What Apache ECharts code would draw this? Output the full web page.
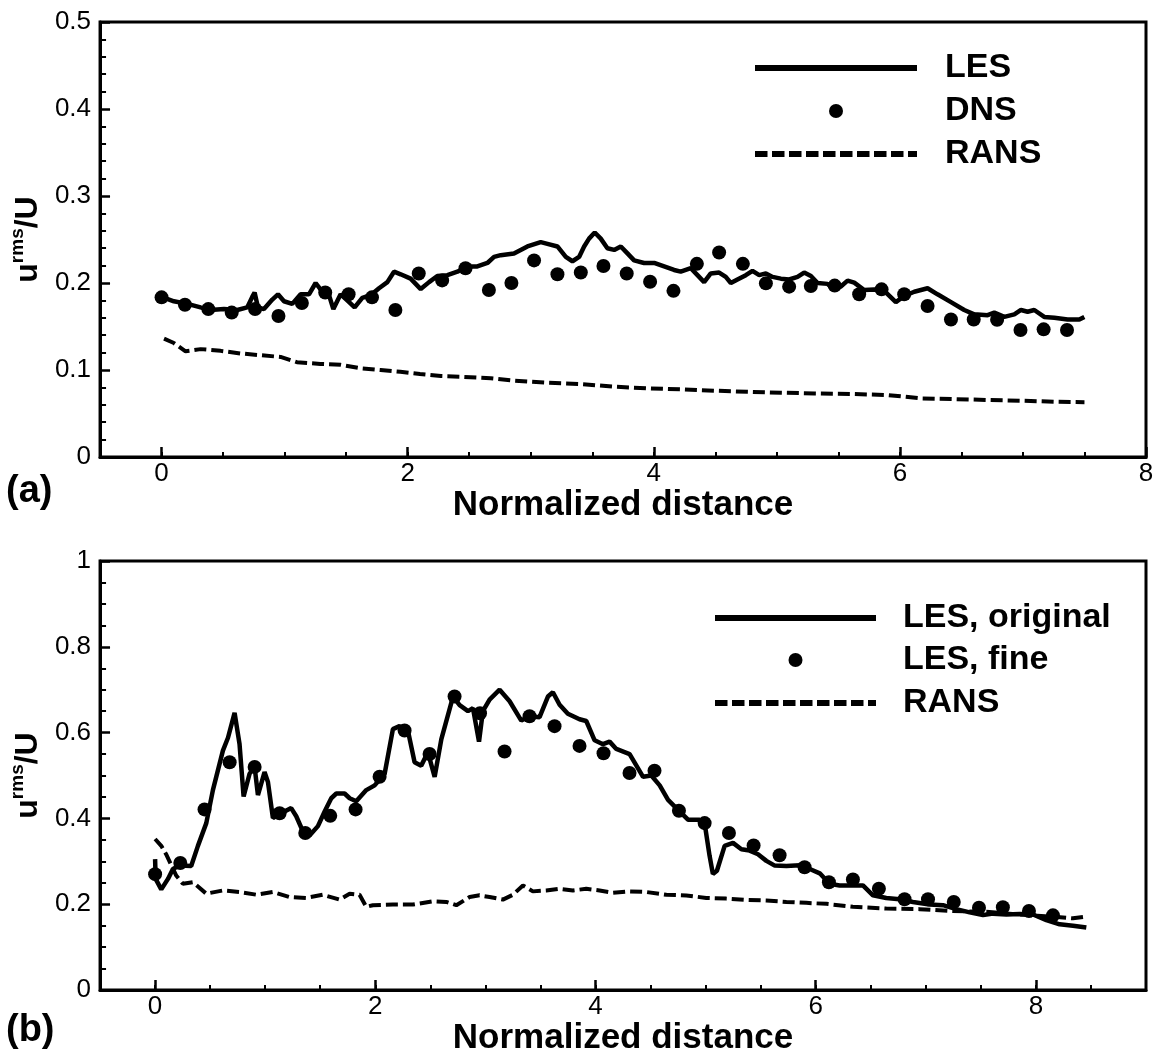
<!DOCTYPE html>
<html>
<head>
<meta charset="utf-8">
<script src="https://cdn.jsdelivr.net/npm/echarts@6/dist/echarts.min.js"></script>
<style>html,body{margin:0;padding:0;background:#fff}#c{width:1158px;height:1057px}</style>
</head>
<body>
<div id="c"></div>
<script>
// ---------- DATA ----------
// Panel (a)
const lesTop = [[0,0.184],[0.1,0.179],[0.21,0.176],[0.317,0.172],[0.398,0.169],[0.507,0.170],[0.615,0.169],[0.696,0.172],[0.737,0.184],[0.756,0.189],[0.783,0.172],[0.832,0.170],[0.9,0.181],[0.946,0.187],[0.995,0.179],[1.062,0.176],[1.13,0.187],[1.198,0.187],[1.252,0.200],[1.306,0.190],[1.352,0.190],[1.396,0.170],[1.455,0.187],[1.509,0.180],[1.569,0.172],[1.631,0.183],[1.699,0.186],[1.767,0.194],[1.835,0.201],[1.889,0.213],[1.943,0.210],[2.024,0.205],[2.106,0.193],[2.174,0.201],[2.241,0.208],[2.322,0.209],[2.404,0.213],[2.485,0.219],[2.566,0.219],[2.648,0.223],[2.702,0.230],[2.756,0.232],[2.864,0.234],[2.973,0.242],[3.081,0.247],[3.136,0.245],[3.217,0.242],[3.285,0.230],[3.339,0.225],[3.393,0.230],[3.434,0.242],[3.474,0.251],[3.52,0.258],[3.569,0.251],[3.623,0.240],[3.678,0.238],[3.732,0.242],[3.786,0.234],[3.84,0.226],[3.921,0.223],[4.003,0.223],[4.084,0.219],[4.165,0.215],[4.219,0.213],[4.301,0.217],[4.355,0.209],[4.409,0.201],[4.463,0.211],[4.531,0.212],[4.585,0.207],[4.626,0.200],[4.68,0.204],[4.748,0.209],[4.802,0.214],[4.857,0.209],[4.911,0.211],[4.965,0.207],[5.033,0.205],[5.1,0.204],[5.168,0.207],[5.222,0.212],[5.277,0.208],[5.331,0.200],[5.412,0.199],[5.467,0.192],[5.52,0.196],[5.575,0.2027],[5.629,0.2004],[5.71,0.192],[5.791,0.1926],[5.873,0.191],[5.967,0.178],[6.035,0.185],[6.117,0.190],[6.225,0.194],[6.306,0.187],[6.415,0.178],[6.523,0.169],[6.604,0.164],[6.713,0.163],[6.767,0.166],[6.848,0.161],[6.93,0.164],[6.984,0.169],[7.038,0.167],[7.092,0.169],[7.173,0.161],[7.255,0.160],[7.363,0.158],[7.458,0.158],[7.499,0.161]];
const dnsTop = [[0,0.1835],[0.19,0.175],[0.38,0.170],[0.57,0.166],[0.76,0.170],[0.95,0.162],[1.14,0.177],[1.33,0.189],[1.52,0.187],[1.71,0.1835],[1.9,0.169],[2.09,0.211],[2.28,0.203],[2.47,0.217],[2.66,0.192],[2.843,0.200],[3.027,0.226],[3.217,0.210],[3.407,0.212],[3.591,0.2195],[3.78,0.211],[3.97,0.2015],[4.16,0.191],[4.35,0.222],[4.531,0.235],[4.724,0.222],[4.911,0.1996],[5.1,0.1958],[5.276,0.1966],[5.47,0.197],[5.669,0.187],[5.851,0.1927],[6.035,0.187],[6.225,0.1736],[6.415,0.158],[6.6,0.158],[6.79,0.1578],[6.98,0.146],[7.168,0.1467],[7.358,0.146]];
const ransTop = [[0.02,0.136],[0.1,0.131],[0.195,0.1215],[0.317,0.124],[0.48,0.122],[0.642,0.119],[0.805,0.117],[0.967,0.115],[1.1,0.109],[1.29,0.107],[1.455,0.106],[1.618,0.102],[1.78,0.100],[1.94,0.098],[2.1,0.0954],[2.27,0.0931],[2.43,0.0923],[2.675,0.0905],[2.864,0.0877],[3.136,0.0854],[3.407,0.0839],[3.678,0.0808],[3.948,0.0789],[4.219,0.0778],[4.49,0.0762],[4.76,0.075],[5.033,0.0739],[5.304,0.0731],[5.629,0.0724],[5.9,0.0712],[6.171,0.0674],[6.442,0.0666],[6.713,0.0655],[6.984,0.0647],[7.255,0.0635],[7.5,0.0630]];
// Panel (b)
const lesOrig = [[0,0.305],[0.005,0.259],[0.056,0.2345],[0.117,0.259],[0.162,0.282],[0.222,0.29],[0.328,0.289],[0.389,0.336],[0.465,0.389],[0.525,0.466],[0.616,0.558],[0.662,0.588],[0.722,0.646],[0.767,0.573],[0.804,0.451],[0.858,0.504],[0.904,0.520],[0.934,0.4545],[0.994,0.508],[1.025,0.485],[1.07,0.401],[1.146,0.412],[1.236,0.424],[1.282,0.405],[1.342,0.370],[1.403,0.360],[1.479,0.382],[1.54,0.416],[1.6,0.447],[1.646,0.458],[1.721,0.458],[1.767,0.447],[1.827,0.440],[1.918,0.466],[1.994,0.477],[2.085,0.504],[2.16,0.608],[2.22,0.615],[2.296,0.605],[2.357,0.531],[2.417,0.523],[2.478,0.554],[2.539,0.497],[2.6,0.585],[2.706,0.684],[2.766,0.664],[2.842,0.650],[2.887,0.657],[2.942,0.579],[2.977,0.650],[3.038,0.677],[3.129,0.700],[3.22,0.673],[3.326,0.628],[3.401,0.638],[3.492,0.636],[3.568,0.684],[3.613,0.694],[3.674,0.665],[3.749,0.644],[3.855,0.631],[3.916,0.627],[3.992,0.582],[4.068,0.573],[4.128,0.579],[4.189,0.562],[4.31,0.550],[4.432,0.497],[4.507,0.500],[4.583,0.477],[4.659,0.443],[4.75,0.420],[4.84,0.397],[4.946,0.397],[5.0,0.374],[5.036,0.313],[5.066,0.2705],[5.103,0.278],[5.173,0.336],[5.249,0.343],[5.325,0.328],[5.4,0.325],[5.476,0.3165],[5.552,0.301],[5.628,0.290],[5.734,0.289],[5.855,0.291],[5.946,0.282],[6.037,0.272],[6.126,0.2475],[6.217,0.2437],[6.338,0.2437],[6.429,0.2437],[6.52,0.2207],[6.641,0.2145],[6.762,0.2115],[6.883,0.2053],[7.034,0.1993],[7.156,0.1977],[7.277,0.1885],[7.398,0.181],[7.52,0.1747],[7.611,0.178],[7.732,0.176],[7.853,0.177],[7.974,0.176],[8.095,0.163],[8.216,0.153],[8.337,0.150],[8.458,0.1456]];
const lesFine = [[0,0.27],[0.229,0.296],[0.449,0.421],[0.677,0.531],[0.904,0.520],[1.131,0.412],[1.364,0.366],[1.591,0.406],[1.821,0.421],[2.039,0.497],[2.266,0.605],[2.493,0.550],[2.72,0.684],[2.951,0.645],[3.174,0.556],[3.401,0.638],[3.628,0.615],[3.855,0.569],[4.073,0.552],[4.309,0.506],[4.536,0.511],[4.758,0.418],[4.991,0.389],[5.212,0.366],[5.436,0.337],[5.672,0.314],[5.899,0.286],[6.12,0.251],[6.338,0.2575],[6.574,0.236],[6.807,0.2115],[7.02,0.2115],[7.254,0.205],[7.483,0.1916],[7.7,0.193],[7.937,0.184],[8.155,0.174]];
const ransBot = [[0,0.352],[0.056,0.336],[0.1,0.3165],[0.192,0.2667],[0.253,0.2475],[0.343,0.2513],[0.465,0.2245],[0.616,0.232],[0.767,0.2284],[0.919,0.2222],[1.07,0.2284],[1.221,0.2168],[1.373,0.2146],[1.524,0.222],[1.676,0.2107],[1.767,0.2245],[1.857,0.222],[1.918,0.1939],[1.978,0.1977],[2.16,0.1992],[2.342,0.1992],[2.524,0.2069],[2.645,0.2053],[2.736,0.1977],[2.857,0.2168],[2.947,0.2207],[3.038,0.2168],[3.159,0.2107],[3.25,0.222],[3.341,0.2437],[3.431,0.2299],[3.553,0.232],[3.674,0.236],[3.795,0.232],[3.916,0.236],[4.037,0.232],[4.158,0.2268],[4.31,0.2299],[4.462,0.2284],[4.644,0.222],[4.825,0.2205],[5.006,0.2146],[5.188,0.213],[5.37,0.21],[5.552,0.2085],[5.734,0.2054],[5.915,0.2031],[6.097,0.2008],[6.338,0.194],[6.641,0.190],[6.944,0.1885],[7.247,0.1839],[7.55,0.1824],[7.853,0.176],[8.155,0.171],[8.337,0.167],[8.458,0.1709]];
// Tick labels
const xTicksTop = [0, 2, 4, 6, 8];
const xTicksBot = [0, 2, 4, 6, 8];
const legendTop = ['LES', 'DNS', 'RANS'];
const legendBot = ['LES, original', 'LES, fine', 'RANS'];

// ---------- CHART ----------
const FONT = 'Liberation Sans';
const chart = echarts.init(document.getElementById('c'), null, {renderer: 'canvas'});

function xMain(grid, max, ticks, gap) {
  return {
    type: 'value', gridIndex: grid, min: -0.5, max: max, position: 'bottom',
    axisLine: {show: true, onZero: false, lineStyle: {color: '#000', width: 3}},
    axisTick: {show: true, inside: true, length: 10, customValues: ticks, lineStyle: {color: '#000', width: 2.5}},
    axisLabel: {show: true, customValues: ticks, fontSize: 26, color: '#000', margin: 4, fontFamily: FONT},
    splitLine: {show: false},
    name: 'Normalized distance', nameLocation: 'middle', nameGap: gap,
    nameTextStyle: {fontSize: 35, fontWeight: 'bold', color: '#000', fontFamily: FONT}
  };
}
function xMinor(grid, max) {
  return {
    type: 'value', gridIndex: grid, min: -0.5, max: max, interval: 0.5, position: 'bottom',
    axisLine: {show: false, onZero: false},
    axisTick: {show: true, inside: true, length: 5, lineStyle: {color: '#000', width: 2}},
    axisLabel: {show: false}, splitLine: {show: false}
  };
}
function yAxis(grid, max, interval, minorSplit) {
  return {
    type: 'value', gridIndex: grid, min: 0, max: max, interval: interval,
    axisLine: {show: true, onZero: false, lineStyle: {color: '#000', width: 3}},
    axisTick: {show: true, inside: true, length: 10, lineStyle: {color: '#000', width: 2.5}},
    minorTick: {show: true, splitNumber: minorSplit, length: 6, lineStyle: {color: '#000', width: 2}},
    axisLabel: {fontSize: 26, color: '#000', margin: 9, fontFamily: FONT},
    splitLine: {show: false}, minorSplitLine: {show: false},
    name: '{a|u}{b|rms}{a|/U}', nameLocation: 'middle', nameRotate: 90, nameGap: 56,
    nameTextStyle: {
      rich: {
        a: {fontSize: 32, fontWeight: 'bold', color: '#000', fontFamily: FONT, lineHeight: 36, verticalAlign: 'bottom'},
        b: {fontSize: 19, fontWeight: 'bold', color: '#000', fontFamily: FONT, lineHeight: 20, verticalAlign: 'top'}
      }
    }
  };
}

const lineBase = (w) => ({type: 'line', symbol: 'none', smooth: false, lineStyle: {color: '#000', width: w}, z: 3});

const legendGraphics = [];
function addLegend(x1, x2, textX, ys, names) {
  legendGraphics.push({type: 'line', shape: {x1: x1, y1: ys[0], x2: x2, y2: ys[0]}, style: {stroke: '#000', lineWidth: 6}});
  legendGraphics.push({type: 'circle', shape: {cx: (x1 + x2) / 2, cy: ys[1], r: 7}, style: {fill: '#000'}});
  legendGraphics.push({type: 'line', shape: {x1: x1, y1: ys[2], x2: x2, y2: ys[2]}, style: {stroke: '#000', lineWidth: 6, lineDash: [12.5, 4.5]}});
  names.forEach((n, i) => legendGraphics.push({
    type: 'text', x: textX, y: ys[i],
    style: {text: n, font: 'bold 34px "' + FONT + '"', fill: '#000', textVerticalAlign: 'middle', verticalAlign: 'middle', textAlign: 'left', align: 'left'}
  }));
}
addLegend(755, 917, 945, [68, 111, 154], legendTop);
addLegend(715, 876, 903, [618, 660, 703], legendBot);
legendGraphics.push({type: 'text', x: 6, y: 492, style: {text: '(a)', font: 'bold 38px "' + FONT + '"', fill: '#000', textVerticalAlign: 'middle', verticalAlign: 'middle'}});
legendGraphics.push({type: 'text', x: 6, y: 1031, style: {text: '(b)', font: 'bold 38px "' + FONT + '"', fill: '#000', textVerticalAlign: 'middle', verticalAlign: 'middle'}});

chart.setOption({
  animation: false,
  backgroundColor: '#fff',
  textStyle: {fontFamily: FONT},
  grid: [
    {left: 100, top: 22, right: 12, bottom: 600, show: true, borderColor: '#000', borderWidth: 3, backgroundColor: 'transparent'},
    {left: 100, top: 561, right: 12, bottom: 61, show: true, borderColor: '#000', borderWidth: 3, backgroundColor: 'transparent'}
  ],
  xAxis: [xMain(0, 8, xTicksTop, 28), xMinor(0, 8), xMain(1, 9, xTicksBot, 31), xMinor(1, 9)],
  yAxis: [yAxis(0, 0.5, 0.1, 5), yAxis(1, 1, 0.2, 4)],
  series: [
    Object.assign(lineBase(4), {name: 'RANS', xAxisIndex: 0, yAxisIndex: 0, data: ransTop, lineStyle: {color: '#000', width: 4, type: [12, 5]}}),
    Object.assign(lineBase(4.5), {name: 'LES', xAxisIndex: 0, yAxisIndex: 0, data: lesTop}),
    {type: 'scatter', name: 'DNS', xAxisIndex: 0, yAxisIndex: 0, data: dnsTop, symbol: 'circle', symbolSize: 14, itemStyle: {color: '#000', opacity: 1}, z: 4},
    Object.assign(lineBase(4), {name: 'RANS', xAxisIndex: 2, yAxisIndex: 1, data: ransBot, lineStyle: {color: '#000', width: 4, type: [12, 5]}}),
    Object.assign(lineBase(4.5), {name: 'LES, original', xAxisIndex: 2, yAxisIndex: 1, data: lesOrig}),
    {type: 'scatter', name: 'LES, fine', xAxisIndex: 2, yAxisIndex: 1, data: lesFine, symbol: 'circle', symbolSize: 14, itemStyle: {color: '#000', opacity: 1}, z: 4}
  ],
  graphic: legendGraphics
});
</script>
</body>
</html>
